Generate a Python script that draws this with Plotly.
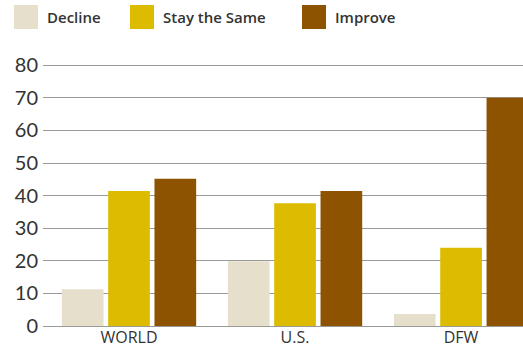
import plotly.graph_objects as go

categories = ["WORLD", "U.S.", "DFW"]
decline = [11.3, 19.9, 3.7]
stay_same = [41.4, 37.7, 24.0]
improve = [45.2, 41.4, 70.0]
series_names = ["Decline", "Stay the Same", "Improve"]
colors = ["#E6DFCC", "#DDBB00", "#8E5300"]
y_ticks = [0, 10, 20, 30, 40, 50, 60, 70, 80]

W, H = 523, 349
L, R, T, B = 43, 0, 62, 23
pw, ph = W - L - R, H - T - B
ymax = 81

fig = go.Figure()
for name, vals, col in zip(series_names, [decline, stay_same, improve], colors):
    fig.add_trace(go.Bar(x=list(range(len(categories))), y=vals, name=name,
                         marker=dict(color=col, line=dict(width=0)), showlegend=False))

def px_x(x):
    return (x - L) / pw

def px_y(y):
    return (H - B - y) / ph

shapes = []
annotations = []
legend_pos = [(14, 46), (130, 162), (302, 334)]
for (sx, tx), name, col in zip(legend_pos, series_names, colors):
    shapes.append(dict(type="rect", xref="paper", yref="paper",
                       x0=px_x(sx), x1=px_x(sx + 24), y0=px_y(29), y1=px_y(5),
                       fillcolor=col, line=dict(width=0)))
    annotations.append(dict(text=name, xref="paper", yref="paper", x=px_x(tx - 1), y=px_y(17),
                            xanchor="left", yanchor="middle", showarrow=False,
                            font=dict(family="Open Sans", size=15, color="#333333", weight=600)))

fig.update_layout(
    width=W, height=H,
    margin=dict(l=L, r=R, t=T, b=B, pad=0),
    paper_bgcolor="white", plot_bgcolor="white",
    barmode="group", bargap=0.163, bargroupgap=0.1,
    shapes=shapes, annotations=annotations,
    xaxis=dict(tickmode="array", tickvals=list(range(len(categories))), ticktext=categories,
               range=[-0.518, 2.373], showgrid=False, zeroline=False, showline=False,
               ticks="", tickfont=dict(family="Open Sans", size=16, color="#333333")),
    yaxis=dict(range=[0, ymax], tickvals=y_ticks, showgrid=True, gridcolor="#9a9a95",
               gridwidth=1.3, zeroline=True, zerolinecolor="#9a9a95", zerolinewidth=1.3,
               showline=False, ticks="", ticklabelstandoff=4,
               tickfont=dict(family="Lato", size=20, color="#333333")),
)
fig.write_html("out.html")
